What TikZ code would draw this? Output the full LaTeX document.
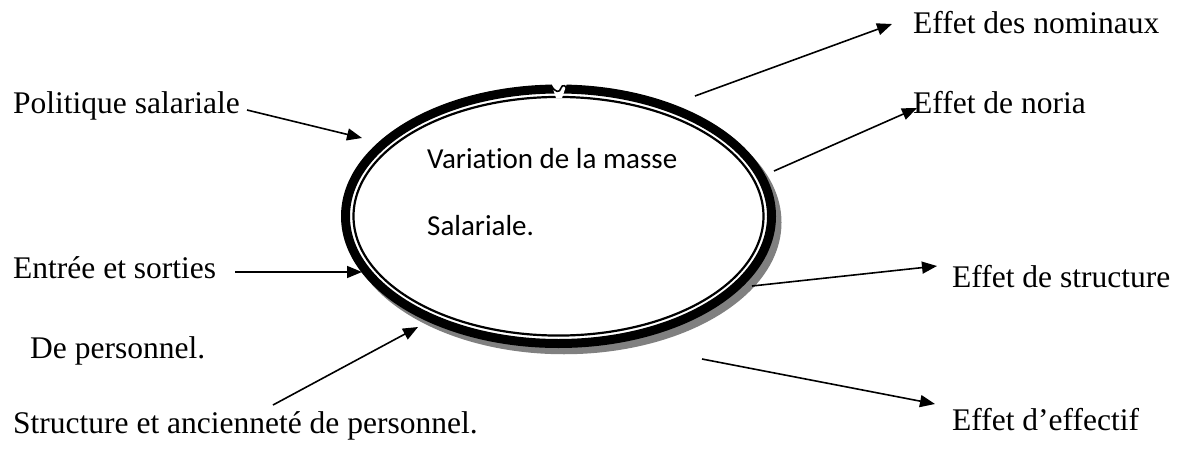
\documentclass[tikz,border=0pt]{standalone}
\usepackage{fontspec}
\setmainfont{Liberation Serif}
\newfontfamily\calibri[Ligatures=CommonOff]{Carlito}
\usetikzlibrary{arrows.meta}
\definecolor{shadowgray}{HTML}{808080}
\begin{document}
\begin{tikzpicture}[x=1pt,y=-1pt,
  lbl/.style={anchor=base west,inner sep=0pt,font=\fontsize{31.5}{38}\selectfont},
  inlbl/.style={anchor=base west,inner sep=0pt,font=\calibri\fontsize{29}{35}\selectfont},
  arr/.style={line width=1.6pt,-{Triangle[length=15pt,width=12pt]}}]
\useasboundingbox (0,0) rectangle (1187,450);
% ellipse with shadow
\draw[line width=9pt,shadowgray] (564,222.5) ellipse [x radius=213,y radius=127.25];
\draw[line width=9pt,black,fill=white] (558.5,216.25) ellipse [x radius=213,y radius=127.25];
\draw[line width=2.2pt,black] (558.5,216.25) ellipse [x radius=205,y radius=119.3];
% notch at top
\fill[white] (551,83) -- (567,83) -- (562,98) -- (556,98) -- cycle;
\draw[line width=1.6pt] (551,85) .. controls (555,93) and (560,93) .. (561,88);
\draw[line width=1.6pt] (561,88) .. controls (562,84) and (567,85) .. (567,91);
\node[inlbl] (v1) at (427,168) {Variation de la masse};
\node[inlbl] (v2) at (427,235) {Salariale.};
% labels
\node[lbl] (pol) at (13,113) {Politique salariale};
\node[lbl] (ent) at (13,278) {Entrée et sorties};
\node[lbl] (dep) at (30,358) {De personnel.};
\node[lbl] (str) at (13,433) {Structure et ancienneté de personnel.};
\node[lbl] (nom) at (913,33) {Effet des nominaux};
\node[lbl] (nor) at (913,113) {Effet de noria};
\node[lbl] (est) at (952,287) {Effet de structure};
\node[lbl] (eff) at (952,430) {Effet d’effectif};
% arrow endpoints
\coordinate (polS) at (247,110);
\coordinate (polE) at (362,138);
\coordinate (entS) at (235,272);
\coordinate (entE) at (362,272);
\coordinate (strS) at (273,405);
\coordinate (strE) at (418,327);
\coordinate (nomS) at (695,96);
\coordinate (nomE) at (892,24);
\coordinate (norS) at (774,171);
\coordinate (norE) at (917,108);
\coordinate (estS) at (752,286);
\coordinate (estE) at (937,266);
\coordinate (effS) at (702,359);
\coordinate (effE) at (935,404);
\draw[arr] (polS) -- (polE);
\draw[arr] (entS) -- (entE);
\draw[arr] (strS) -- (strE);
\draw[arr] (nomS) -- (nomE);
\draw[arr] (norS) -- (norE);
\draw[arr] (estS) -- (estE);
\draw[arr] (effS) -- (effE);
\end{tikzpicture}
\end{document}
